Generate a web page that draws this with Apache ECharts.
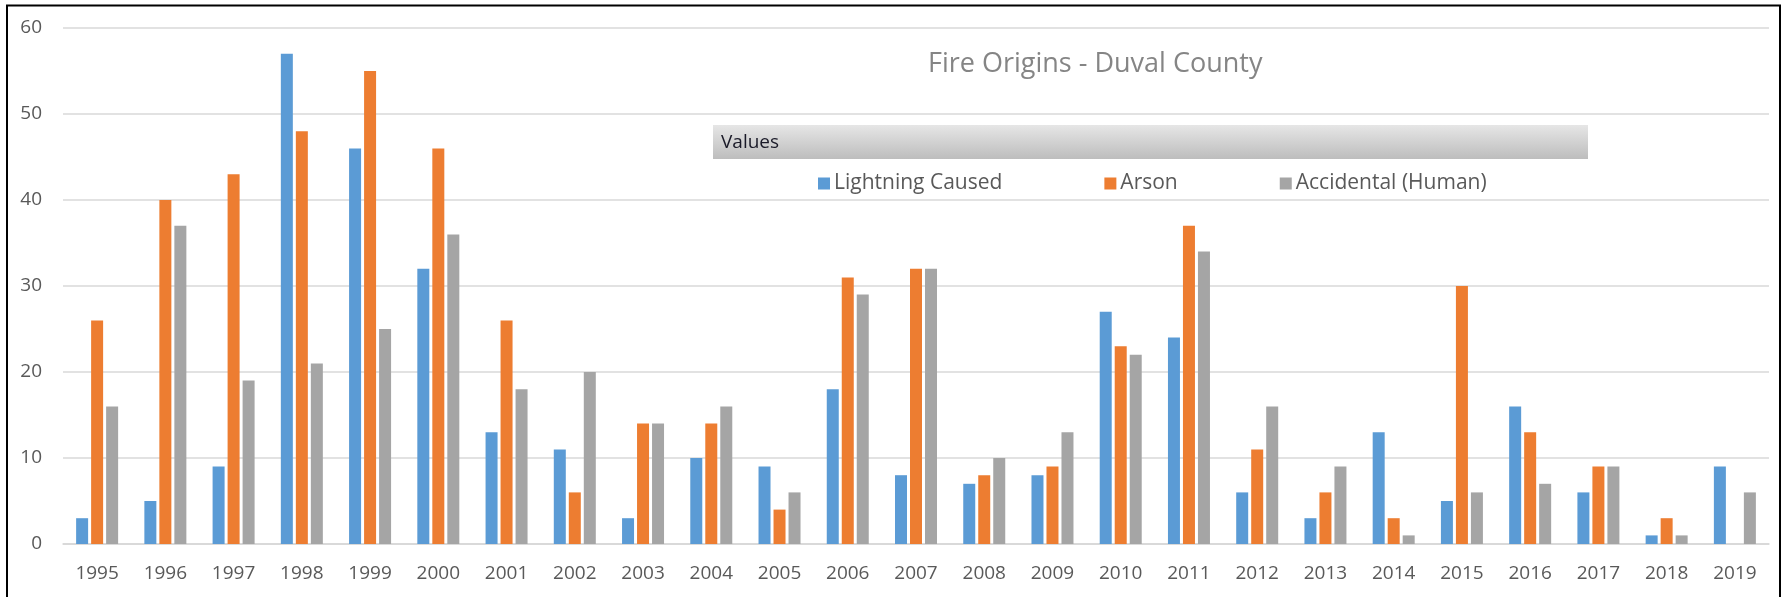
<!DOCTYPE html>
<html>
<head>
<meta charset="utf-8">
<script src="https://cdn.jsdelivr.net/npm/echarts@6/dist/echarts.min.js"></script>
<style>
html,body{margin:0;padding:0;background:#fff;}
#c{width:1786px;height:597px;}
</style>
</head>
<body>
<div id="c"></div>
<script>
var years = ['1995','1996','1997','1998','1999','2000','2001','2002','2003','2004','2005','2006','2007','2008','2009','2010','2011','2012','2013','2014','2015','2016','2017','2018','2019'];
var lightning = [3,5,9,57,46,32,13,11,3,10,9,18,8,7,8,27,24,6,3,13,5,16,6,1,9];
var arson = [26,40,43,48,55,46,26,6,14,14,4,31,32,8,9,23,37,11,6,3,30,13,9,3,0];
var accidental = [16,37,19,21,25,36,18,20,14,16,6,29,32,10,13,22,34,16,9,1,6,7,9,1,6];
var seriesNames = ['Lightning Caused','Arson','Accidental (Human)'];
var colors = ['#5B9BD5','#ED7D31','#A5A5A5'];
var titleText = 'Fire Origins - Duval County';
var fieldButtonText = 'Values';

var FONT = '"Open Sans", sans-serif';
var chart = echarts.init(document.getElementById('c'));
function bar(name, data, color){
  return {
    name: name, type: 'bar', data: data, barWidth: 12, barGap: '25%',
    itemStyle: {color: color}
  };
}
chart.setOption({
  animation: false,
  backgroundColor: '#ffffff',
  color: colors,
  title: {
    text: titleText, left: 928, top: 51, padding: 0,
    textStyle: {fontFamily: FONT, fontSize: 27, fontWeight: 'normal', color: '#858585'}
  },
  legend: {
    data: seriesNames, left: 818, top: 173, padding: 0,
    itemWidth: 12, itemHeight: 12, itemGap: 102, icon: 'rect',
    textStyle: {fontFamily: FONT, fontSize: 21, color: '#595959', padding: [0,0,0,-1]}
  },
  grid: {left: 63, right: 17, top: 28, bottom: 53, containLabel: false},
  xAxis: {
    type: 'category', data: years,
    axisLine: {show: true, lineStyle: {color: '#d6d6d6', width: 1.5}},
    axisTick: {show: false},
    axisLabel: {fontFamily: FONT, fontSize: 19, color: '#595959', margin: 20}
  },
  yAxis: {
    type: 'value', min: 0, max: 60, interval: 10,
    axisLine: {show: false}, axisTick: {show: false},
    axisLabel: {fontFamily: FONT, fontSize: 19, color: '#595959', margin: 21},
    splitLine: {lineStyle: {color: '#d9d9d9', width: 1.5}}
  },
  series: [
    bar(seriesNames[0], lightning, colors[0]),
    bar(seriesNames[1], arson, colors[1]),
    bar(seriesNames[2], accidental, colors[2])
  ],
  graphic: [
    {
      type: 'rect', z: 10,
      shape: {x: 713, y: 125, width: 875, height: 34},
      style: {
        fill: new echarts.graphic.LinearGradient(0,0,0,1,[
          {offset: 0, color: '#e6e6e6'}, {offset: 1, color: '#bdbdbd'}
        ])
      }
    },
    {
      type: 'text', z: 11, x: 721, y: 143,
      style: {text: fieldButtonText, font: '19px "Open Sans", sans-serif', fill: '#1a1a28', verticalAlign: 'middle'}
    },
    {
      type: 'polyline', z: 20,
      shape: {points: [[7,700],[7,5.5],[1780,5.5],[1780,700]]},
      style: {stroke: '#000000', lineWidth: 2, fill: null}
    }
  ]
});
</script>
</body>
</html>
